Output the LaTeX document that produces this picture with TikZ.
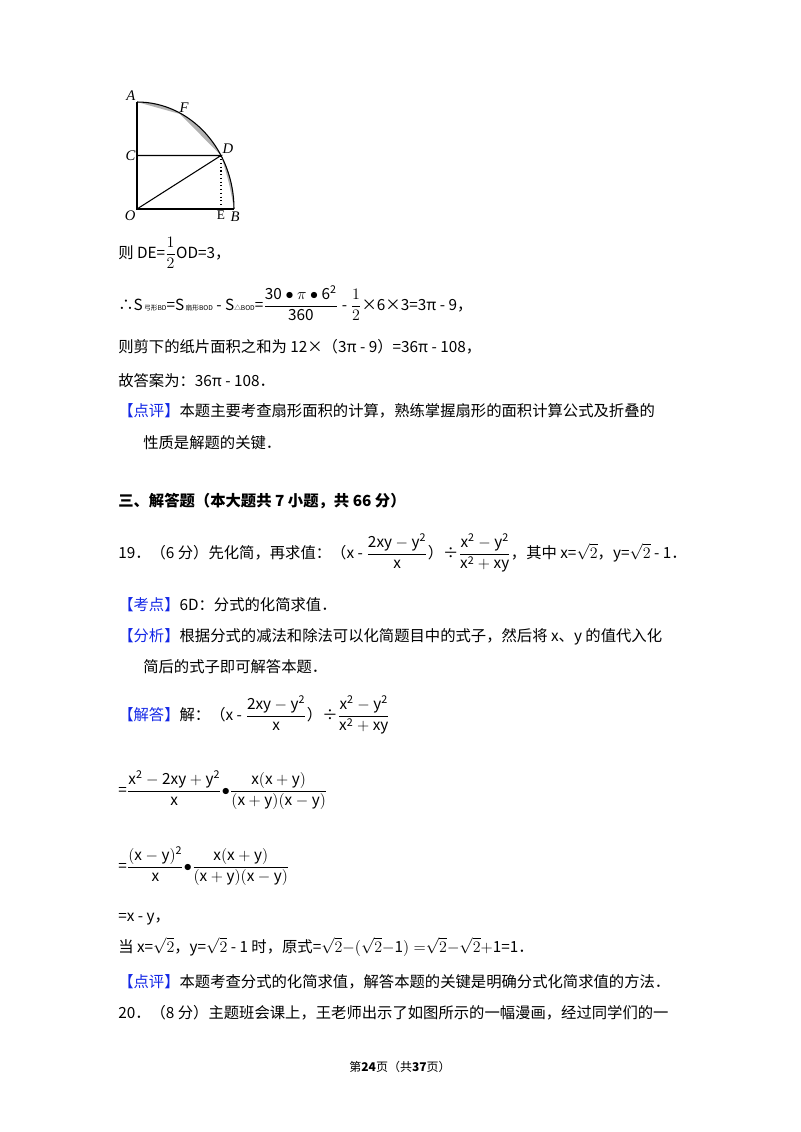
\documentclass[tikz,border=0pt]{standalone}
\usepackage{amsmath}
\usepackage{fontspec}
\setmainfont{Noto Sans CJK SC}
\newfontfamily\lserif{Liberation Serif}
\definecolor{kb}{RGB}{20,40,230}
\newcommand{\fr}[2]{\dfrac{\mathrm{#1}}{\mathrm{#2}}}
\begin{document}
\begin{tikzpicture}[x=0.75pt,y=-0.75pt,
  t/.style={anchor=base west,inner sep=0pt,font=\fontsize{11.5}{14}\selectfont},
  lab/.style={inner sep=1pt,font=\fontsize{11}{12}\selectfont\lserif\itshape}]
\useasboundingbox (0,0) rectangle (800,1132);
% figure
\coordinate (O) at (137,209);
\coordinate (A) at (137,102);
\coordinate (B) at (234,209);
\coordinate (C) at (137,155.5);
\coordinate (D) at (221,155.5);
\coordinate (E) at (221,209);
\coordinate (F) at (180,114);
\fill[gray!60] (A) arc[start angle=90,end angle=30,x radius=97*0.75pt,y radius=107*0.75pt] -- (F) -- cycle;
\fill[gray!60] (D) arc[start angle=30,end angle=0,x radius=97*0.75pt,y radius=107*0.75pt] .. controls (229,182) .. (D);
\draw[thick] (A) -- (O) -- (B);
\draw[thick] (C) -- (D) -- (O);
\draw[dotted,thick] (D) -- (E);
\draw[thick] (A) arc[start angle=90,end angle=0,x radius=97*0.75pt,y radius=107*0.75pt];
\node[lab,anchor=south east] at (A) {A};
\node[lab,anchor=south west] at (178,114) {F};
\node[lab,anchor=east] at (C) {C};
\node[lab,anchor=south west] at (D) {D};
\node[lab,anchor=north east] at (O) {O};
\node[inner sep=1pt,anchor=north,font=\fontsize{10}{12}\selectfont\lserif] at (E) {E};
\node[lab,anchor=north west] at (229,210) {B};
% text
\node[t] (l1) at (118,258) {则 DE=$\dfrac{1}{2}$OD=3，};
\node[t] (l2) at (118,310) {∴S{\tiny\ 弓形BD}=S{\tiny\ 扇形BOD} - S{\tiny △BOD}=$\fr{30\bullet\pi\bullet6^2}{360}$ - $\dfrac{1}{2}$×6×3=3π - 9，};
\node[t] (l3) at (118,352) {则剪下的纸片面积之和为 12×（3π - 9）=36π - 108，};
\node[t] (l4) at (118,386) {故答案为：36π - 108．};
\node[t] (l5) at (118,416) {\textcolor{kb}{【点评】}本题主要考查扇形面积的计算，熟练掌握扇形的面积计算公式及折叠的};
\node[t] (l6) at (143,448) {性质是解题的关键．};
\node[t,font=\fontsize{11.5}{14}\selectfont\bfseries] (l7) at (118,506) {三、解答题（本大题共 7 小题，共 66 分）};
\node[t] (l8) at (118,558) {19．（6 分）先化简，再求值：（x - $\fr{2xy-y^2}{x}$）÷$\fr{x^2-y^2}{x^2+xy}$，其中 x=$\sqrt{2}$，y=$\sqrt{2}$ - 1．};
\node[t] (l9) at (118,610) {\textcolor{kb}{【考点】}6D：分式的化简求值．};
\node[t] (l10) at (118,641) {\textcolor{kb}{【分析】}根据分式的减法和除法可以化简题目中的式子，然后将 x、y 的值代入化};
\node[t] (l11) at (143,672) {简后的式子即可解答本题．};
\node[t] (l12) at (118,720) {\textcolor{kb}{【解答】}解：（x - $\fr{2xy-y^2}{x}$）÷$\fr{x^2-y^2}{x^2+xy}$};
\node[t] (l13) at (118,795) {=$\fr{x^2-2xy+y^2}{x}$$\bullet$$\fr{x(x+y)}{(x+y)(x-y)}$};
\node[t] (l14) at (118,871) {=$\fr{(x-y)^2}{x}$$\bullet$$\fr{x(x+y)}{(x+y)(x-y)}$};
\node[t] (l15) at (118,921) {=x - y，};
\node[t] (l16) at (118,952) {当 x=$\sqrt{2}$，y=$\sqrt{2}$ - 1 时，原式=$\sqrt{2}\mathrm{-(}\sqrt{2}\mathrm{-1)=}\sqrt{2}\mathrm{-}\sqrt{2}\mathrm{+1}$=1．};
\node[t] (l17) at (118,987) {\textcolor{kb}{【点评】}本题考查分式的化简求值，解答本题的关键是明确分式化简求值的方法．};
\node[t] (l18) at (118,1018) {20．（8 分）主题班会课上，王老师出示了如图所示的一幅漫画，经过同学们的一};
\node[inner sep=0pt,anchor=base,font=\fontsize{9}{11}\selectfont] (ft) at (400,1071) {第\textbf{24}页（共\textbf{37}页）};
\end{tikzpicture}
\end{document}
